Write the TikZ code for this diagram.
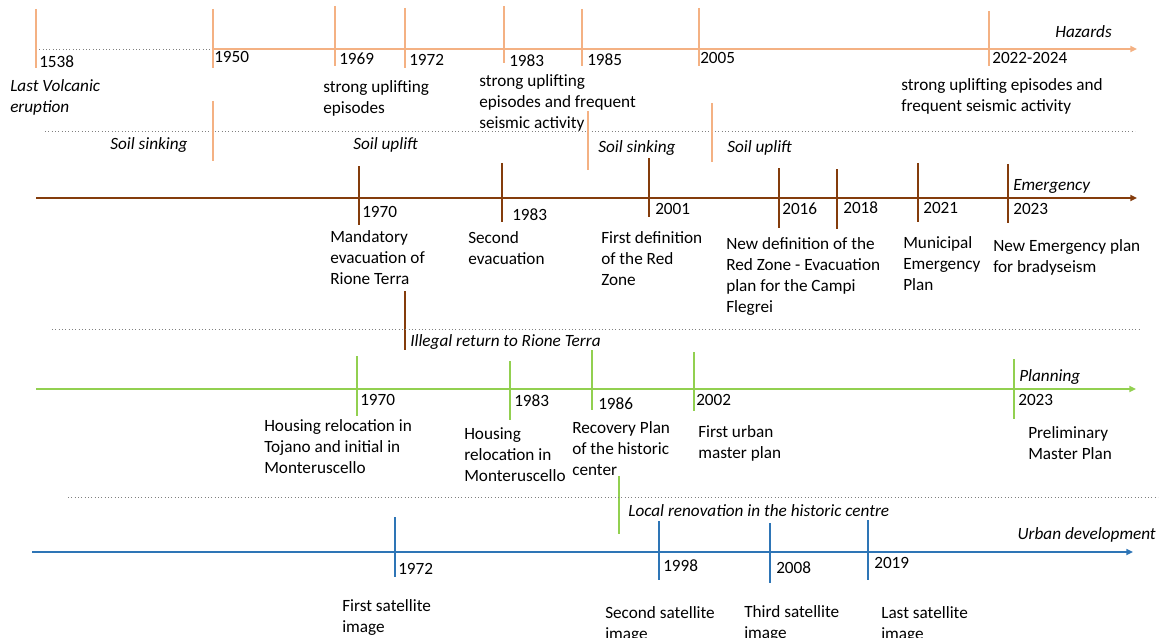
\documentclass[tikz,border=0pt]{standalone}
\usepackage{fontspec}
\setmainfont{Carlito}
\usetikzlibrary{arrows.meta}

\definecolor{hazcol}{HTML}{F4B183}
\definecolor{emecol}{HTML}{843C0C}
\definecolor{placol}{HTML}{92D050}
\definecolor{urbcol}{HTML}{2E75B6}

\begin{document}
\begin{tikzpicture}[x=0.75pt, y=-0.75pt, >={Triangle[length=5pt,width=4.5pt]},
    txt/.style={anchor=north west, inner sep=0pt, align=left, font=\fontsize{12.9}{15.75}\selectfont},
    lbl/.style={txt, font=\fontsize{12.9}{15.75}\selectfont\itshape},
    tickmark/.style={line width=0.8pt},
    axis/.style={line width=1.2pt, ->},
    sep/.style={gray, dotted, line width=0.5pt}]

    \useasboundingbox (0,0) rectangle (1166,638);

    % hazards
    \draw[sep] (36,49) coordinate (h0) -- (213,49) coordinate (h1);
    \draw[axis, hazcol] (h1) -- (1137,49) coordinate (h2);
    \node[lbl, anchor=north east] (hazards) at (1112,25) {Hazards};
    \foreach \x/\ya/\yb/\lx/\ly/\yr in {36/9/68/39/55/1538, 213/9/68/214/51/1950, 335/6/66/339/53/1969,
        405/8/68/409/54/1972, 504/6/63/509/54/1983, 582/9/66/587/53/1985, 699/8/66/700/52/2005, 989/11/66/992/52/2022-2024}{
        \draw[tickmark, hazcol] (\x,\ya) -- (\x,\yb);
        \node[txt] (h\yr) at (\lx,\ly) {\yr};
    }
    \node[lbl] (eruption) at (10,79) {Last Volcanic\\eruption};
    \node[txt] (up69) at (323,80) {strong uplifting\\episodes};
    \node[txt] (up83) at (479,74) {strong uplifting\\episodes and frequent\\seismic activity};
    \node[txt] (up22) at (901,78) {strong uplifting episodes and\\frequent seismic activity};

    % soil movements
    \draw[sep] (45,131) -- (1135,131);
    \foreach \x/\ya/\yb in {213/101/161, 588/111/170, 712/103/162}
        \draw[tickmark, hazcol] (\x,\ya) -- (\x,\yb);
    \node[lbl] (sink1) at (110,137) {Soil sinking};
    \node[lbl] (lift1) at (353,137) {Soil uplift};
    \node[lbl] (sink2) at (598,140) {Soil sinking};
    \node[lbl] (lift2) at (727,140) {Soil uplift};

    % emergency
    \draw[axis, emecol] (36,198) coordinate (e0) -- (1137,198) coordinate (e1);
    \node[lbl] (emergency) at (1013,179) {Emergency};
    \foreach \x/\ya/\yb/\lx/\ly/\yr in {359/166/225/362/206/1970, 502/163/222/512/208/1983, 649/158/217/655/203/2001,
        779/168/228/782/203/2016, 837/169/229/843/201/2018, 918/163/222/923/202/2021, 1008/164/223/1013/203/2023}{
        \draw[tickmark, emecol] (\x,\ya) -- (\x,\yb);
        \node[txt] (e\yr) at (\lx,\ly) {\yr};
    }
    \node[txt] (evac1) at (330,230) {Mandatory\\evacuation of\\Rione Terra};
    \node[txt] (evac2) at (468,231) {Second\\evacuation};
    \node[txt] (red1) at (601,231) {First definition\\of the Red\\Zone};
    \node[txt] (red2) at (726,237) {New definition of the\\Red Zone - Evacuation\\plan for the Campi\\Flegrei};
    \node[txt] (muni) at (903,236) {Municipal\\Emergency\\Plan};
    \node[txt] (brady) at (993,239) {New Emergency plan\\for bradyseism};

    \draw[tickmark, emecol] (405,291) -- (405,350);
    \draw[sep] (52,329) -- (1141,329);
    \node[lbl] (illegal) at (410,334) {Illegal return to Rione Terra};

    % planning
    \draw[axis, placol] (36,389) coordinate (p0) -- (1136,389) coordinate (p1);
    \node[lbl] (planning) at (1019,369) {Planning};
    \foreach \x/\ya/\yb/\lx/\ly/\yr in {357/356/416/360/394/1970, 510/361/420/514/394/1983, 592/350/410/598/397/1986,
        694/352/411/696/394/2002, 1014/359/419/1018/394/2023}{
        \draw[tickmark, placol] (\x,\ya) -- (\x,\yb);
        \node[txt] (p\yr) at (\lx,\ly) {\yr};
    }
    \node[txt] (tojano) at (264,419) {Housing relocation in\\Tojano and initial in\\Monteruscello};
    \node[txt] (monte) at (464,427) {Housing\\relocation in\\Monteruscello};
    \node[txt] (recovery) at (572,421) {Recovery Plan\\of the historic\\center};
    \node[txt] (urban1) at (698,425) {First urban\\master plan};
    \node[txt] (prelim) at (1028,426) {Preliminary\\Master Plan};

    \draw[tickmark, placol] (619,476) -- (619,534);
    \draw[sep] (68,497) -- (1158,497);
    \node[lbl] (renov) at (628,504) {Local renovation in the historic centre};

    % urban development
    \draw[axis, urbcol] (32,552) coordinate (u0) -- (1133,552) coordinate (u1);
    \node[lbl, anchor=north east] (urbdev) at (1156,527) {Urban development};
    \foreach \x/\ya/\yb/\lx/\ly/\yr in {395/517/577/398/563/1972, 659/521/580/663/559/1998,
        770/523/583/776/561/2008, 868/520/580/874/557/2019}{
        \draw[tickmark, urbcol] (\x,\ya) -- (\x,\yb);
        \node[txt] (u\yr) at (\lx,\ly) {\yr};
    }
    \node[txt] (sat1) at (342,599) {First satellite\\image};
    \node[txt] (sat2) at (605,606) {Second satellite\\image};
    \node[txt] (sat3) at (744,605) {Third satellite\\image};
    \node[txt] (sat4) at (881,606) {Last satellite\\image};

\end{tikzpicture}
\end{document}
